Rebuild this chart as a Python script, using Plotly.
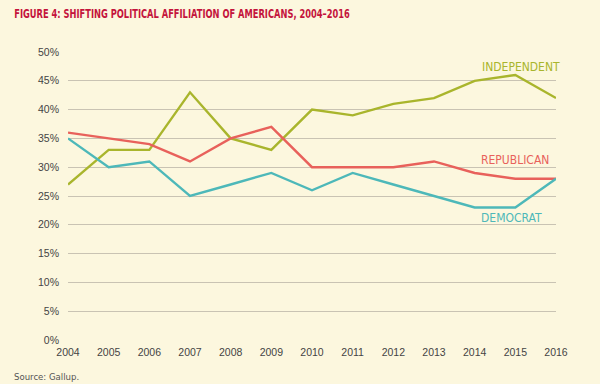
import plotly.graph_objects as go

years = list(range(2004, 2017))
independent = [27, 33, 33, 43, 35, 33, 40, 39, 41, 42, 45, 46, 42]
republican = [36, 35, 34, 31, 35, 37, 30, 30, 30, 31, 29, 28, 28]
democrat = [35, 30, 31, 25, 27, 29, 26, 29, 27, 25, 23, 23, 28]

c_ind = "#A9B52C"
c_rep = "#E8615B"
c_dem = "#4DB8B9"
bg = "#FCF7DE"
cond = "DejaVu Sans Condensed, Liberation Sans Narrow, Arial Narrow, sans-serif"
tickf = "Liberation Sans, Arial, sans-serif"

fig = go.Figure()
for name, vals, col in [("Independent", independent, c_ind),
                        ("Republican", republican, c_rep),
                        ("Democrat", democrat, c_dem)]:
    fig.add_trace(go.Scatter(x=years, y=vals, mode="lines", name=name,
                             line=dict(color=col, width=2.4), cliponaxis=False))

fig.add_annotation(x=2015.15, y=47.4, text="INDEPENDENT", showarrow=False,
                   font=dict(family=cond, size=12, color=c_ind))
fig.add_annotation(x=2015.0, y=31.3, text="REPUBLICAN", showarrow=False,
                   font=dict(family=cond, size=12, color=c_rep))
fig.add_annotation(x=2014.9, y=21.2, text="DEMOCRAT", showarrow=False,
                   font=dict(family=cond, size=12, color=c_dem))

fig.add_annotation(xref="paper", yref="paper", x=-0.115, y=1.134, xanchor="left", yanchor="middle",
                   text="<b>FIGURE 4: SHIFTING POLITICAL AFFILIATION OF AMERICANS, 2004–2016</b>",
                   showarrow=False, font=dict(family=cond, size=12.5, color="#C4143C"))
fig.add_annotation(xref="paper", yref="paper", x=-0.115, y=-0.128, xanchor="left", yanchor="middle",
                   text="Source: Gallup.", showarrow=False,
                   font=dict(family=cond, size=9.5, color="#555555"))

fig.update_layout(
    width=600, height=384,
    paper_bgcolor=bg, plot_bgcolor=bg,
    margin=dict(l=68, r=44, t=52, b=44),
    showlegend=False,
    xaxis=dict(range=[2004, 2016], tickmode="array", tickvals=years,
               ticktext=[str(y) for y in years], showgrid=False, zeroline=False,
               showline=False, ticks="", ticklabelstandoff=4,
               tickfont=dict(family=tickf, size=10.5, color="#444444")),
    yaxis=dict(range=[0, 50], tickmode="array", tickvals=list(range(0, 51, 5)),
               ticktext=[f"{v}%" for v in range(0, 51, 5)],
               showgrid=True, gridcolor="#C9C3B3", gridwidth=1, zeroline=False,
               showline=False, ticks="", ticklabelstandoff=8,
               tickfont=dict(family=tickf, size=10.5, color="#444444")),
)

post = """
document.body.style.margin='0';
document.querySelectorAll('.annotation-text').forEach(function(t){
  if (t.textContent.indexOf('FIGURE') === 0) {
    t.style.transformBox = 'fill-box';
    t.style.transformOrigin = '0 50%';
    t.style.transform = 'scaleX(0.74)';
  }
});
"""
fig.write_html("out.html", post_script=post, config={"displayModeBar": False})
